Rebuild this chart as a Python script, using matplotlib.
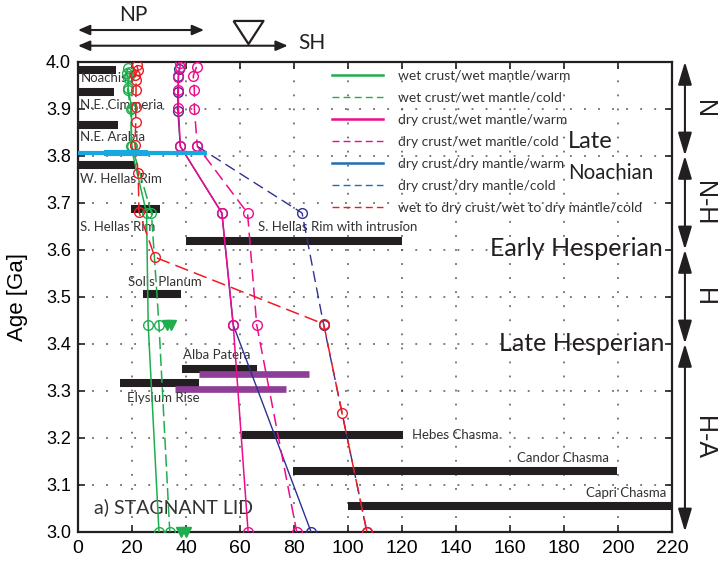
import numpy as np
import matplotlib
matplotlib.use('Agg')
import matplotlib.pyplot as plt
from matplotlib.lines import Line2D

# ---- model curves (distance [km] vs age [Ga]) ----
wet_warm_x = [18.6, 18.0, 18.5, 18.6, 19.9, 19.6, 25.4, 26.0, 30.0]
wet_warm_y = [3.986, 3.975, 3.965, 3.943, 3.901, 3.82, 3.678, 3.44, 3.0]
wet_cold_x = [19.3, 19.0, 18.4, 19.5, 20.0, 27.2, 30.0, 34.0]
wet_cold_y = [3.979, 3.97, 3.94, 3.90, 3.82, 3.678, 3.44, 3.0]
drywet_warm_x = [37.8, 37.8, 37.2, 37.2, 37.2, 37.9, 53.3, 57.5, 63.0]
drywet_warm_y = [3.997, 3.989, 3.968, 3.94, 3.901, 3.82, 3.678, 3.44, 3.0]
drywet_cold_x = [43.9, 42.7, 43.1, 43.1, 44.2, 62.8, 66.2, 81.0]
drywet_cold_y = [3.989, 3.97, 3.94, 3.90, 3.82, 3.678, 3.44, 3.0]
drydry_warm_x = [37.5, 37.2, 37.0, 37.0, 37.9, 53.3, 57.5, 86.3]
drydry_warm_y = [3.985, 3.97, 3.935, 3.895, 3.82, 3.678, 3.44, 3.0]
drydry_cold_x = [44.2, 83.0, 91.0, 107.0]
drydry_cold_y = [3.82, 3.678, 3.44, 3.0]
wet2dry_x = [21.7, 22.3, 21.1, 21.5, 21.5, 21.4, 21.4, 21.1, 22.3, 22.6, 28.5, 91.0, 97.8, 107.0]
wet2dry_y = [3.993, 3.982, 3.972, 3.961, 3.94, 3.904, 3.872, 3.823, 3.763, 3.68, 3.584, 3.442, 3.252, 3.0]
tri_x = [33.0, 34.5, 38.0, 40.0]
tri_y = [3.44, 3.44, 3.0, 3.0]

# ---- observed features (bars: x start, x end, age) ----
bar_names = ['Noachis', 'N.E. Cimmeria', 'N.E. Arabia', 'W. Hellas Rim', 'S. Hellas Rim',
             'S. Hellas Rim with intrusion', 'Solis Planum', 'Alba Patera', 'Elysium Rise',
             'Hebes Chasma', 'Candor Chasma', 'Capri Chasma']
bar_x0 = [0, 0, 0, 0, 19.6, 40, 24, 38.5, 15.6, 60.6, 79.6, 100]
bar_x1 = [14, 13.3, 14.8, 21.1, 30.4, 120, 38.1, 66.2, 44.9, 120.2, 199.5, 220]
bar_age = [3.982, 3.936, 3.865, 3.78, 3.687, 3.618, 3.506, 3.346, 3.316, 3.206, 3.13, 3.055]
purple_x0 = [45, 36]
purple_x1 = [85.6, 76.9]
purple_age = [3.335, 3.304]
cyan_x0 = [0, 9.6]
cyan_x1 = [47.8, 25.9]
cyan_age = [3.805, 3.805]

periods = ['N', 'N-H', 'H', 'H-A']
period_bounds = [4.0, 3.8, 3.6, 3.4, 3.0]

GREEN = '#1fae4f'
MAGENTA = '#ec0c8c'
NAVY = '#2e3192'
RED = '#ed1c24'
PURPLE = '#8d3e97'
CYAN = '#16a9e1'
BLACK = '#231f20'
TXT = '#333333'

plt.rcParams['font.family'] = ['Liberation Sans', 'DejaVu Sans']

fig = plt.figure(figsize=(7.2, 5.66), dpi=100)
ax = fig.add_axes([0.1083, 0.0606, 0.825, 0.8304])

# grid
ax.set_axisbelow(True)
ax.grid(True, color='#555555', linestyle=(0, (1.2, 8)), linewidth=1.1)

# bars
for x0, x1, a in zip(bar_x0, bar_x1, bar_age):
    ax.plot([x0, x1], [a, a], color=BLACK, lw=5.8, solid_capstyle='butt', zorder=2)
for x0, x1, a in zip(purple_x0, purple_x1, purple_age):
    ax.plot([x0, x1], [a, a], color=PURPLE, lw=4.8, solid_capstyle='butt', zorder=2)
ax.plot([cyan_x0[0], cyan_x1[0]], [cyan_age[0]] * 2, color=CYAN, lw=3.0, solid_capstyle='butt', zorder=5)
ax.plot([cyan_x0[1], cyan_x1[1]], [cyan_age[1]] * 2, color=CYAN, lw=4.4, solid_capstyle='butt', zorder=5)

# model curves
mk = dict(marker='o', mfc='none', ms=7, mew=1.0, zorder=4)
ax.plot(wet_warm_x, wet_warm_y, color=GREEN, lw=1.1, **mk)
ax.plot(wet_cold_x, wet_cold_y, color=GREEN, lw=1.1, dashes=(8, 3), **mk)
ax.plot(drydry_warm_x, drydry_warm_y, color=NAVY, lw=1.0, **mk)
ax.plot(drydry_cold_x, drydry_cold_y, color=NAVY, lw=1.0, dashes=(8, 4), **mk)
ax.plot(drywet_warm_x, drywet_warm_y, color=MAGENTA, lw=1.1, **mk)
ax.plot(drywet_cold_x, drywet_cold_y, color=MAGENTA, lw=1.1, dashes=(8, 4), **mk)
ax.plot(wet2dry_x, wet2dry_y, color=RED, lw=1.1, dashes=(9, 4), **mk)
ax.plot(tri_x, tri_y, 'v', color=GREEN, ms=7, ls='none', zorder=4, clip_on=False)

# bar labels
lab = dict(family=['Lato', 'DejaVu Sans'], fontsize=9.5, color=TXT, va='center')
ax.text(1, 3.965, 'Noachis', **lab)
ax.text(0.8, 3.908, 'N.E. Cimmeria', **lab)
ax.text(0.8, 3.84, 'N.E. Arabia', **lab)
ax.text(0.8, 3.75, 'W. Hellas Rim', **lab)
ax.text(0.8, 3.649, 'S. Hellas Rim', **lab)
ax.text(66.7, 3.649, 'S. Hellas Rim with intrusion', **lab)
ax.text(18.4, 3.532, 'Solis Planum', **lab)
ax.text(39, 3.376, 'Alba Patera', **lab)
ax.text(18, 3.284, 'Elysium Rise', **lab)
ax.text(123.6, 3.206, 'Hebes Chasma', **lab)
ax.text(196.7, 3.157, 'Candor Chasma', ha='right', **lab)
ax.text(217.8, 3.082, 'Capri Chasma', ha='right', **lab)

ax.text(6, 3.053, 'a) STAGNANT LID', family=['Lato', 'DejaVu Sans'], fontsize=14, color=TXT, va='center')

big = dict(family=['Lato', 'DejaVu Sans'], color=BLACK, va='center')
ax.text(181.5, 3.83, 'Late', fontsize=17, **big)
ax.text(181.5, 3.763, 'Noachian', fontsize=14.8, **big)
ax.text(216.5, 3.603, 'Early Hesperian', ha='right', fontsize=18, **big)
ax.text(217, 3.401, 'Late Hesperian', ha='right', fontsize=18, **big)

# legend
handles = [
    Line2D([], [], color=GREEN, lw=1.8),
    Line2D([], [], color=GREEN, lw=1.0, dashes=(5, 3)),
    Line2D([], [], color=MAGENTA, lw=1.8),
    Line2D([], [], color=MAGENTA, lw=1.0, dashes=(5, 3)),
    Line2D([], [], color='#1f6fb4', lw=1.8),
    Line2D([], [], color='#1f6fb4', lw=1.0, dashes=(5, 3)),
    Line2D([], [], color=RED, lw=1.0, dashes=(5, 3)),
]
labels = ['wet crust/wet mantle/warm', 'wet crust/wet mantle/cold',
          'dry crust/wet mantle/warm', 'dry crust/wet mantle/cold',
          'dry crust/dry mantle/warm', 'dry crust/dry mantle/cold',
          'wet to dry crust/wet to dry mantle/cold']
leg = ax.legend(handles, labels, loc='upper left', bbox_to_anchor=(0.418, 0.995),
                frameon=False, prop={'family': ['Lato', 'DejaVu Sans'], 'size': 10},
                handlelength=3.7, handletextpad=1.05, labelspacing=0.72, borderaxespad=0)
for t in leg.get_texts():
    t.set_color(TXT)

# axes
ax.set_xlim(0, 220)
ax.set_ylim(3.0, 4.0)
ax.set_xticks(np.arange(0, 221, 20))
ax.set_yticks(np.arange(3.0, 4.01, 0.1))
ax.set_yticklabels(['%.1f' % v for v in np.arange(3.0, 4.01, 0.1)])
ax.tick_params(direction='in', top=True, right=True, length=5, width=1.2, color=BLACK)
ax.tick_params(axis='x', labelsize=14, pad=6)
ax.tick_params(axis='y', labelsize=13, pad=5)
for s in ax.spines.values():
    s.set_linewidth(1.6)
    s.set_color(BLACK)
ax.set_ylabel('Age [Ga]', fontsize=16, labelpad=13)

# period arrows on the right
for i, name in enumerate(periods):
    top, bot = period_bounds[i], period_bounds[i + 1]
    ax.annotate('', xy=(224.8, bot), xytext=(224.8, top), xycoords='data',
                annotation_clip=False,
                arrowprops=dict(arrowstyle='<|-|>,head_length=1.4,head_width=0.42',
                                color=BLACK, lw=1.5, shrinkA=0, shrinkB=0))
    ax.text(232, (top + bot) / 2, name, rotation=-90, fontsize=18, color=BLACK,
            ha='center', va='center', clip_on=False)

# NP / SH arrows above the plot
arr = dict(arrowstyle='<|-|>,head_length=0.7,head_width=0.3', color=BLACK, lw=1.5,
           shrinkA=0, shrinkB=0)
ax.annotate('', xy=(46.7, 4.0674), xytext=(0, 4.0674), annotation_clip=False, arrowprops=arr)
ax.annotate('', xy=(77.7, 4.034), xytext=(0, 4.034), annotation_clip=False, arrowprops=arr)
ax.text(20.5, 4.099, 'NP', family=['Lato', 'DejaVu Sans'], fontsize=15, color=BLACK,
        ha='center', va='center', clip_on=False)
ax.text(81.5, 4.039, 'SH', family=['Lato', 'DejaVu Sans'], fontsize=15, color=BLACK,
        ha='left', va='center', clip_on=False)
tri = [(-1, 0.77), (1, 0.77), (0, -0.77), (-1, 0.77)]
ax.plot([63], [4.0638], marker=tri, ms=21.6, mfc='none', mec=BLACK, mew=1.6,
        ls='none', clip_on=False)

fig.savefig('out.png', dpi=100)
